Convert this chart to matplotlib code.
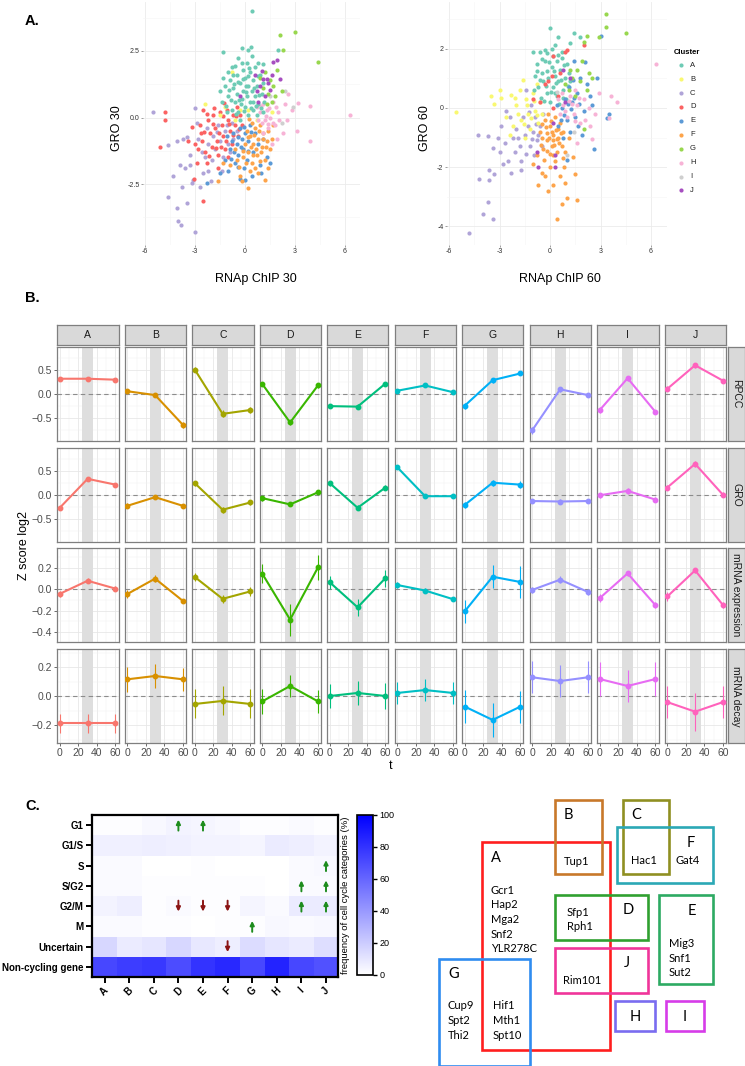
#!/usr/bin/env python3
# -*- coding: utf-8 -*-
"""
plot.py - figura composta: dispersao RNAp x GRO (A), perfis de Z-score por
cluster (B) e heatmap de fases do ciclo celular + diagrama de reguladores (C).
"""
import numpy as np
import matplotlib
matplotlib.use("Agg")
import matplotlib.pyplot as plt
from matplotlib.patches import Rectangle
from matplotlib.colors import LinearSegmentedColormap

plt.rcParams["font.family"] = ["Liberation Sans", "DejaVu Sans"]

W, H = 745, 1066
CLUSTERS = list("ABCDEFGHIJ")

# ---------------- A: pontos (RNAp ChIP, GRO) por cluster ----------------
S30_A = [(-1.3, 2.45), (0.4, 4.0), (-0.2, 2.6), (0.35, 2.65), (0.15, 2.55), (1.95, 2.55),
         (-0.4, 2.25), (0.1, 2.05), (0.8, 2.05), (1.1, 2.0), (-1.5, 1.0), (-1.4, 0.6),
         (-1.2, 1.2), (-1.0, 0.8), (-0.9, 1.4), (-0.8, 0.3), (-0.7, 1.1), (-0.6, 0.6),
         (-0.5, 1.6), (-0.5, 0.9), (-0.4, 0.2), (-0.3, 1.3), (-0.2, 0.7), (-0.1, 1.8),
         (-0.1, 1.0), (0.0, 0.4), (0.0, 1.5), (0.1, 0.8), (0.2, 1.2), (0.2, 0.1),
         (0.3, 1.7), (0.3, 0.6), (0.4, 1.0), (0.5, 1.4), (0.5, 0.3), (0.6, 0.8),
         (0.7, 1.2), (0.8, 0.5), (0.9, 1.6), (1.0, 0.9), (1.1, 0.2), (-0.3, -0.1),
         (-0.8, 1.9), (0.6, 1.9), (-1.1, 0.2), (0.05, 1.2), (-0.25, 0.5), (0.45, 0.6),
         (-0.65, 1.25), (0.15, 1.55), (-1.35, 1.5), (-1.15, 0.45), (-0.95, 1.05), (-0.85, 0.65),
         (-0.75, 1.6), (-0.55, 0.15), (-0.45, 1.35), (-0.35, 0.65), (-0.15, 1.45), (-0.05, 0.25),
         (0.05, 0.95), (0.25, 1.85), (0.35, 0.35), (0.55, 1.1), (0.65, 0.45), (0.75, 1.55),
         (0.85, 0.85), (0.95, 0.35), (1.05, 1.3), (1.15, 0.6), (-0.6, 1.95), (0.4, 2.3),
         (-0.2, 2.05), (0.7, 0.1), (-1.0, 1.7)]
S30_B = [(-0.8, 1.7), (-2.4, 0.5), (-1.5, 0.1), (-0.3, 0.3), (0.2, 0.3), (-0.6, -0.1),
         (0.7, -0.1), (1.6, 0.2), (-1.2, 0.4)]
S30_C = [(-5.5, 0.2), (-4.6, -1.05), (-4.6, -3.0), (-4.1, -3.4), (-4.0, -3.9), (-3.85, -4.05),
         (-3.5, -3.2), (-3.0, -4.3), (-3.1, -2.35), (-3.2, -2.45), (-3.9, -1.8), (-3.6, -1.9),
         (-3.7, -0.8), (-3.5, -0.75), (-3.3, -1.4), (-3.0, 0.35), (-2.8, -0.8), (-2.6, -1.3),
         (-2.5, -2.1), (-2.3, -0.4), (-2.2, -1.0), (-2.0, -1.6), (-1.9, -0.7), (-1.8, -1.2),
         (-1.6, -0.3), (-1.5, -0.9), (-1.3, -1.5), (-1.2, -0.5), (-1.0, -1.0), (-0.8, -0.2),
         (-0.7, -0.8), (-0.5, -0.5), (-2.2, -2.0), (-3.3, -1.8), (-4.1, -0.9), (-2.4, -1.5),
         (-2.7, -2.6), (-1.4, -2.0), (-1.1, -0.3), (-0.9, -1.3), (-2.9, -0.2), (-1.7, -0.55),
         (-2.05, -2.4), (-3.8, -2.6), (-4.35, -2.2)]
S30_D = [(-4.8, 0.2), (-4.8, -0.1), (-5.1, -1.1), (-2.5, -3.15), (-3.05, -2.3), (-3.2, -0.35),
         (-3.4, -0.9), (-2.9, -1.7), (-2.7, -0.3), (-2.6, -0.9), (-2.5, 0.3), (-2.4, -1.3),
         (-2.2, -0.1), (-2.1, -0.6), (-2.0, -1.1), (-1.9, 0.1), (-1.8, -0.4), (-1.7, -0.9),
         (-1.6, -1.4), (-1.5, 0.2), (-1.4, -0.3), (-1.3, -0.7), (-1.2, -1.2), (-1.1, 0.3),
         (-1.0, -0.1), (-0.9, -0.5), (-0.8, -1.0), (-0.7, 0.1), (-0.6, -0.3), (-0.5, 0.4),
         (-0.4, -0.7), (-0.3, 0.1), (-1.6, -1.9), (-2.3, -1.7), (-1.0, -1.5), (-2.8, -1.2),
         (-0.2, -0.3), (-1.25, 0.55), (-2.45, -0.55), (-2.15, -1.45), (-1.95, -0.25), (-1.75, -1.15),
         (-1.55, -0.6), (-1.35, 0.05), (-1.15, -0.9), (-0.95, -0.25), (-0.75, -0.65), (-0.55, 0.05),
         (-1.85, 0.35), (-2.65, -0.6), (-0.35, -0.45), (-1.45, -1.1), (-3.0, -1.0), (-2.3, 0.15)]
S30_E = [(-2.3, -2.45), (-1.0, -2.0), (-0.3, -2.3), (0.4, -2.2), (0.9, -1.8), (1.5, -1.7),
         (1.3, -1.5), (-1.5, -2.1), (-1.2, -1.6), (-0.9, -1.2), (-0.7, -0.6), (-0.5, -1.0),
         (-0.4, -1.4), (-0.3, -0.4), (-0.2, -0.8), (-0.1, -1.2), (0.0, -0.6), (0.1, -1.6),
         (0.2, -0.9), (0.3, -0.3), (0.5, -1.3), (0.6, -0.6), (0.8, -1.0), (-0.8, -0.9),
         (-0.6, -1.7), (0.95, -2.1), (1.1, -0.8), (-0.05, -1.9), (-0.65, -1.3), (-0.45, -0.75),
         (-0.25, -1.1), (-0.05, -0.35), (0.15, -1.25), (0.35, -0.55), (-0.85, -1.55), (-1.1, -0.7),
         (0.0, -2.35), (-0.4, -1.85)]
S30_F = [(0.2, -2.65), (1.2, -2.35), (-1.6, -2.4), (-1.3, -1.7), (-0.3, -2.2), (-0.2, -2.4),
         (-0.5, -1.6), (-0.1, -1.5), (0.0, -1.0), (0.1, -0.5), (0.2, -1.3), (0.3, -0.7),
         (0.4, -1.7), (0.4, -0.2), (0.5, -1.0), (0.6, -0.4), (0.7, -1.4), (0.8, -0.8),
         (0.9, -0.3), (1.0, -1.1), (1.1, -0.6), (1.2, -1.6), (1.3, -0.9), (1.4, -0.5),
         (1.5, -1.2), (0.6, -1.9), (-0.6, -1.2), (-0.9, -1.8), (0.25, -0.05), (1.6, -0.8),
         (0.75, -2.1), (0.15, -0.75), (0.35, -1.1), (0.55, -0.65), (0.65, -1.2), (0.85, -0.5),
         (0.95, -1.3), (1.05, -0.8), (1.25, -1.1), (0.45, -1.4), (0.05, -1.7), (-0.15, -1.25),
         (0.3, -2.0), (1.4, -1.9), (0.9, -1.65), (-0.35, -1.85), (1.7, -0.3)]
S30_G = [(2.1, 3.1), (3.0, 3.2), (4.4, 2.1), (2.3, 2.55), (1.9, 1.8), (1.2, 1.7), (1.5, 1.4),
         (1.7, 1.2), (1.4, 0.9), (1.8, 0.8), (1.1, 1.1), (1.6, 0.6), (2.2, 1.0), (1.3, 0.5),
         (0.9, 1.5)]
S30_H = [(6.3, 0.1), (3.9, 0.45), (3.9, -0.9), (3.1, -0.5), (3.2, 0.55), (2.8, 0.3),
         (2.5, -0.1), (2.4, 0.5), (2.0, 0.2), (1.8, -0.3), (1.7, 0.6), (1.5, 0.0),
         (1.4, -0.4), (1.3, 0.3), (1.2, -0.1), (1.1, 0.5), (1.0, -0.2), (0.9, 0.2),
         (0.8, -0.1), (0.7, 0.4), (1.9, -0.8), (2.3, -0.6), (1.6, -1.0), (1.1, -0.6),
         (1.25, 0.05), (1.45, 0.35), (1.65, -0.2), (1.85, 0.4), (2.05, -0.1), (0.95, 0.45),
         (1.35, -0.25), (2.6, 0.9)]
S30_I = [(2.9, 0.4), (2.4, 1.0), (2.2, -0.2), (1.5, 0.8)]
S30_J = [(1.7, 2.1), (1.9, 2.15), (1.3, 1.45), (0.9, 1.2), (1.5, 1.05), (1.2, 0.8),
         (0.6, 1.6), (1.0, 1.75), (0.8, 0.6), (1.6, 1.6), (2.1, 1.45), (-0.3, 0.8),
         (1.4, 1.3), (1.1, 1.45), (0.7, 1.0)]

S60_A = [(0.0, 2.7), (1.4, 2.55), (1.8, 2.4), (0.3, 2.15), (1.2, 2.2), (-1.0, 1.9),
         (-0.6, 1.9), (-0.3, 1.95), (0.7, 1.9), (0.4, 1.6), (-0.8, 1.5), (-0.5, 1.2),
         (-0.3, 1.6), (-0.1, 1.0), (0.1, 1.4), (0.2, 0.7), (0.3, 1.1), (0.5, 0.9),
         (0.6, 1.3), (0.8, 0.6), (0.9, 1.0), (1.0, 1.5), (-0.2, 0.5), (0.0, 0.2),
         (-0.7, 0.7), (-0.4, 0.9), (0.4, 0.4), (0.7, 1.7), (-0.9, 1.1), (1.2, 0.9),
         (0.15, 1.75), (-0.15, 1.25), (0.55, 0.15), (-0.55, 0.35), (0.95, 0.3),
         (-0.75, 1.25), (-0.45, 1.65), (-0.25, 0.75), (-0.05, 1.55), (0.05, 0.55), (0.25, 1.25),
         (0.35, 0.85), (0.45, 1.8), (0.65, 0.95), (0.75, 0.35), (0.85, 1.45), (1.05, 0.75),
         (1.15, 1.2), (-0.95, 0.6), (-0.35, 0.25), (0.1, 2.0), (0.5, 2.4), (-0.6, 0.95),
         (0.3, 0.5), (-0.15, 1.85)]
S60_B = [(-5.6, -0.15), (-3.0, 0.6), (-3.5, 0.4), (-2.9, 0.35), (-2.3, 0.45), (-3.3, 0.15),
         (-2.6, -0.3), (-2.2, -0.6), (-2.0, 0.1), (-1.8, 0.6), (-1.7, -0.4), (-1.5, -1.0),
         (-1.4, 0.3), (-1.3, -0.2), (-1.2, -0.7), (-1.0, 0.5), (-0.9, -0.1), (-0.8, 0.8),
         (-0.7, -0.5), (-0.6, 0.2), (-2.4, -0.9), (-1.6, 0.95), (-0.5, -0.2), (-1.9, -0.2),
         (-1.1, -0.35), (-1.35, 0.1), (-0.95, 0.25), (-0.75, -0.25), (-1.55, -0.55), (-2.1, 0.35)]
S60_C = [(-4.8, -4.25), (-4.0, -3.6), (-3.7, -3.2), (-3.4, -3.75), (-4.2, -2.4), (-3.65, -2.45),
         (-3.6, -2.1), (-3.3, -2.25), (-4.3, -0.9), (-3.7, -0.95), (-3.4, -1.35), (-3.1, -1.0),
         (-3.0, -1.5), (-2.9, -0.6), (-2.7, -1.2), (-2.5, -1.8), (-2.4, -0.3), (-2.2, -1.0),
         (-1.7, -1.8), (-1.7, -2.1), (-2.0, -0.7), (-1.8, -1.3), (-1.6, -0.3), (-1.5, -0.9),
         (-1.3, -0.6), (-1.2, -1.3), (-1.1, 0.1), (-1.0, -0.8), (-0.9, -0.3), (-0.8, -1.1),
         (-0.6, -0.6), (-0.5, -1.3), (-0.4, -0.2), (-1.4, 0.6), (-2.6, -0.1), (-1.25, -0.15),
         (-1.05, -1.05), (-0.85, -0.55), (-0.7, -0.9), (-1.9, -1.0), (-2.1, -1.5), (-2.8, -1.9),
         (-1.45, -1.55), (-0.95, -1.6), (-2.3, -2.2)]
S60_D = [(0.2, 1.75), (1.0, 1.95), (2.0, 2.15), (0.9, 1.9), (0.6, 1.2), (-0.3, 0.8),
         (0.5, 0.4), (-1.0, 0.3), (-0.1, 0.9), (0.2, 0.0), (-0.6, 0.2), (0.1, 1.1)]
S60_E = [(3.0, 2.45), (2.8, 1.0), (3.5, -0.2), (3.4, -0.35), (2.6, -1.4), (2.1, 1.55),
         (1.4, 1.6), (1.8, 1.0), (2.4, 0.4), (2.0, -0.1), (1.6, 0.5), (1.5, -0.3),
         (1.3, 0.2), (1.2, -0.8), (1.1, 0.7), (1.0, -0.4), (0.9, 0.3), (0.8, -1.0),
         (0.7, 0.0), (0.5, -0.6), (1.9, -0.9), (2.2, 0.8), (1.0, -1.75), (0.4, 0.1),
         (2.5, 0.1), (1.25, -0.05), (1.45, 0.35), (1.05, 0.15), (0.85, -0.25), (1.65, -0.6),
         (1.35, 0.95), (0.65, -0.4), (1.75, 0.15)]
S60_F = [(0.4, -3.75), (0.7, -3.25), (1.6, -3.1), (1.0, -3.05), (-0.1, -2.8), (0.9, -2.55),
         (1.5, -2.25), (0.6, -2.3), (-0.3, -2.3), (-0.5, -2.2), (1.35, -1.65), (-1.0, -1.9),
         (-0.8, -1.6), (0.0, -2.0), (0.3, -1.8), (-0.4, -1.4), (-0.2, -1.1), (0.0, -0.6),
         (0.1, -1.3), (0.2, -0.9), (0.3, -0.3), (0.4, -1.5), (0.5, -1.0), (0.6, -0.5),
         (0.7, -1.3), (0.8, -0.8), (-0.6, -0.8), (-0.3, -0.4), (-0.1, -0.2), (0.2, -1.6),
         (-0.5, -1.0), (0.9, -1.5), (-0.15, -0.85), (0.45, -0.7), (0.15, -1.1), (-0.35, -1.75),
         (-0.25, -0.65), (-0.05, -1.0), (0.05, -0.45), (0.25, -1.25), (0.35, -0.75), (0.55, -1.2),
         (0.65, -0.85), (-0.45, -0.55), (-0.15, -1.45), (0.75, -1.7), (0.1, -0.8), (-0.55, -1.25),
         (0.4, -1.05), (0.0, -1.55), (1.1, -1.0), (0.85, -2.0), (-0.7, -2.6), (0.2, -2.6)]
S60_G = [(3.3, 3.2), (3.3, 2.75), (4.5, 2.55), (2.9, 2.4), (2.2, 2.45), (2.0, 2.25),
         (1.9, 1.6), (1.6, 1.3), (2.3, 1.2), (1.3, 1.0), (1.8, 0.9), (1.1, 0.6),
         (1.5, 0.4), (0.9, 0.8), (2.5, 1.0), (2.0, -0.7), (2.2, 0.6), (1.2, 1.3)]
S60_H = [(6.3, 1.5), (4.0, 0.2), (3.6, 0.4), (3.5, -0.35), (2.5, -1.05), (1.6, -1.2),
         (2.9, 0.5), (2.3, 0.0), (2.0, 0.3), (1.8, -0.5), (1.6, 0.1), (1.4, -0.2),
         (1.2, 0.4), (1.0, -0.3), (0.8, 0.1), (0.6, -0.2), (2.1, -0.4), (2.7, -0.2),
         (1.5, 0.6), (0.5, 0.3), (1.3, 0.15), (1.5, -0.45), (1.7, 0.35), (0.9, -0.1),
         (1.1, 0.25), (2.4, -0.6), (0.7, 0.5)]
S60_I = [(1.0, -1.6), (1.4, -0.8), (0.4, 0.55)]
S60_J = [(-0.8, -1.5), (0.3, -2.0), (-0.7, -2.0), (0.3, -1.6), (0.9, 0.2), (0.2, -0.5),
         (1.2, 1.0), (0.8, 1.3)]

S30 = dict(A=S30_A, B=S30_B, C=S30_C, D=S30_D, E=S30_E, F=S30_F, G=S30_G, H=S30_H, I=S30_I, J=S30_J)
S60 = dict(A=S60_A, B=S60_B, C=S60_C, D=S60_D, E=S60_E, F=S60_F, G=S60_G, H=S60_H, I=S60_I, J=S60_J)

COR_SCAT = {"A": "#6ECBB5", "B": "#F9F871", "C": "#B0A4D8", "D": "#FB6262", "E": "#5C9AD6",
            "F": "#FDA44B", "G": "#98D74E", "H": "#F7B3D6", "I": "#CFCFCF", "J": "#A64EC0"}

# ---------------- B: medias e erros por cluster (t = 0, 30, 60) ----------------
T = [0, 30, 60]
RPCC_MED = [[0.31, 0.31, 0.29], [0.05, -0.03, -0.65], [0.50, -0.42, -0.34], [0.20, -0.60, 0.17],
            [-0.26, -0.27, 0.21], [0.06, 0.17, 0.03], [-0.25, 0.28, 0.42], [-0.76, 0.09, -0.03],
            [-0.34, 0.32, -0.38], [0.10, 0.59, 0.27]]
RPCC_ERR = [[0.03, 0.03, 0.03], [0.04, 0.04, 0.07], [0.06, 0.07, 0.06], [0.05, 0.06, 0.05],
            [0.04, 0.05, 0.04], [0.03, 0.03, 0.03], [0.06, 0.05, 0.04], [0.07, 0.05, 0.04],
            [0.06, 0.05, 0.05], [0.05, 0.05, 0.04]]
GRO_MED = [[-0.27, 0.33, 0.21], [-0.23, -0.05, -0.23], [0.24, -0.31, -0.16], [-0.07, -0.20, 0.05],
           [0.24, -0.27, 0.15], [0.57, -0.03, -0.03], [-0.21, 0.25, 0.21], [-0.13, -0.14, -0.13],
           [-0.01, 0.08, -0.10], [0.15, 0.64, 0.0]]
GRO_ERR = [[0.04, 0.04, 0.03], [0.05, 0.04, 0.04], [0.05, 0.06, 0.05], [0.05, 0.04, 0.04],
           [0.05, 0.05, 0.05], [0.04, 0.03, 0.03], [0.06, 0.06, 0.07], [0.05, 0.05, 0.05],
           [0.05, 0.07, 0.05], [0.06, 0.07, 0.05]]
EXPR_MED = [[-0.043, 0.08, 0.006], [-0.045, 0.10, -0.11], [0.115, -0.09, -0.02], [0.146, -0.285, 0.205],
            [0.065, -0.17, 0.105], [0.04, -0.012, -0.093], [-0.207, 0.118, 0.068], [-0.006, 0.09, -0.025],
            [-0.083, 0.149, -0.15], [-0.068, 0.177, -0.148]]
EXPR_ERR = [[0.03, 0.025, 0.025], [0.035, 0.03, 0.02], [0.04, 0.035, 0.04], [0.09, 0.15, 0.12],
            [0.06, 0.08, 0.08], [0.03, 0.025, 0.02], [0.11, 0.11, 0.15], [0.03, 0.03, 0.03],
            [0.04, 0.02, 0.03], [0.045, 0.02, 0.025]]
DEC_MED = [[-0.186, -0.186, -0.186], [0.117, 0.14, 0.117], [-0.053, -0.032, -0.053], [-0.035, 0.071, -0.035],
           [0.002, 0.023, 0.002], [0.023, 0.043, 0.023], [-0.071, -0.163, -0.071], [0.131, 0.105, 0.131],
           [0.119, 0.071, 0.119], [-0.04, -0.106, -0.04]]
DEC_ERR = [[0.065, 0.065, 0.065], [0.085, 0.085, 0.08], [0.10, 0.10, 0.10], [0.085, 0.075, 0.08],
           [0.085, 0.085, 0.09], [0.075, 0.075, 0.075], [0.115, 0.115, 0.11], [0.11, 0.11, 0.11],
           [0.12, 0.11, 0.12], [0.11, 0.13, 0.11]]
COR_LINHA = ["#F8766D", "#D89000", "#A3A500", "#39B600", "#00BF7D",
             "#00BFC4", "#00B0F6", "#9590FF", "#E76BF3", "#FF62BC"]

# ---------------- C: frequencia (%) das categorias por cluster ----------------
FASES = ["G1", "G1/S", "S", "S/G2", "G2/M", "M", "Uncertain", "Non-cycling gene"]
FREQ_G1 = [1, 1, 3, 5, 4, 3, 1, 1, 2, 1]
FREQ_G1S = [6, 6, 7, 6, 5, 5, 4, 8, 7, 5]
FREQ_S = [2, 2, 0, 0, 1, 0, 0, 0, 2, 3]
FREQ_SG2 = [2, 2, 1, 1, 1, 1, 1, 0, 2, 2]
FREQ_G2M = [5, 7, 1, 2, 1, 1, 4, 2, 8, 8]
FREQ_M = [2, 2, 1, 1, 0, 1, 1, 3, 2, 3]
FREQ_UNC = [16, 8, 10, 16, 9, 7, 14, 10, 8, 13]
FREQ_NC = [72, 76, 78, 70, 80, 84, 72, 86, 72, 68]
SETA_SOBE = [("G1", "D"), ("G1", "E"), ("S", "J"), ("S/G2", "I"), ("S/G2", "J"),
             ("G2/M", "I"), ("G2/M", "J"), ("M", "G")]
SETA_DESCE = [("G2/M", "D"), ("G2/M", "E"), ("G2/M", "F"), ("Uncertain", "F")]

# reguladores em cada caixa do diagrama
GENES_A = ["Gcr1", "Hap2", "Mga2", "Snf2", "YLR278C"]
GENES_AG = ["Hif1", "Mth1", "Spt10"]
GENES_G = ["Cup9", "Spt2", "Thi2"]
GENES_E = ["Mig3", "Snf1", "Sut2"]
GENES_AD = ["Sfp1", "Rph1"]
GENES_AB = ["Tup1"]
GENES_AJ = ["Rim101"]
GENES_CF = ["Hac1"]
GENES_F = ["Gat4"]

fig = plt.figure(figsize=(W / 100, H / 100), dpi=100)


def caixa(x0, y0, x1, y1):
    return fig.add_axes([x0 / W, 1 - y1 / H, (x1 - x0) / W, (y1 - y0) / H])


# ---------------- painel A ----------------
def dispersao(ax, pontos, ordem, xlim, ylim, yt, yt_lab, ymin):
    for c in ordem:
        p = np.array(pontos[c])
        ax.scatter(p[:, 0], p[:, 1], s=9, color=COR_SCAT[c], lw=0, zorder=3)
    ax.set_xlim(*xlim); ax.set_ylim(*ylim)
    ax.set_xticks([-6, -3, 0, 3, 6]); ax.set_xticklabels(["-6", "-3", "0", "3", "6"])
    ax.set_xticks([-4.5, -1.5, 1.5, 4.5], minor=True)
    ax.set_yticks(yt); ax.set_yticklabels(yt_lab)
    ax.set_yticks(ymin, minor=True)
    ax.grid(True, which="major", color="#EBEBEB", lw=0.6)
    ax.grid(True, which="minor", color="#F5F5F5", lw=0.4)
    ax.set_axisbelow(True)
    for s in ax.spines.values():
        s.set_visible(False)
    ax.tick_params(which="major", labelsize=5, labelcolor="#333333", color="#555555",
                   length=1.5, width=0.4, pad=1)
    ax.tick_params(which="minor", length=0)


ax30 = caixa(143, 2, 360, 245)
dispersao(ax30, S30, ["C", "D", "E", "F", "B", "H", "I", "A", "G", "J"],
          (-6.12, 6.9), (-4.79, 4.34), [-2.5, 0, 2.5], ["-2.5", "0.0", "2.5"],
          [-3.75, -1.25, 1.25, 3.75])
ax60 = caixa(447, 2, 667, 245)
dispersao(ax60, S60, ["C", "B", "F", "A", "D", "E", "H", "G", "I", "J"],
          (-6.12, 6.95), (-4.64, 3.59), [-4, -2, 0, 2], ["-4", "-2", "0", "2"],
          [-3, -1, 1, 3])

ov = fig.add_axes([0, 0, 1, 1], zorder=10)
ov.set_xlim(0, W); ov.set_ylim(H, 0); ov.axis("off"); ov.patch.set_alpha(0)

ov.text(25, 21, "A.", fontsize=10.5, fontweight="bold", va="center")
ov.text(25, 298, "B.", fontsize=10.5, fontweight="bold", va="center")
ov.text(25, 806, "C.", fontsize=10.5, fontweight="bold", va="center")
ov.text(117, 128, "GRO 30", fontsize=9, rotation=90, ha="center", va="center")
ov.text(256, 279, "RNAp ChIP 30", fontsize=9, ha="center", va="center")
ov.text(425, 128, "GRO 60", fontsize=9, rotation=90, ha="center", va="center")
ov.text(560, 279, "RNAp ChIP 60", fontsize=9, ha="center", va="center")

# legenda manual dos clusters
ov.text(674, 53, "Cluster", fontsize=5.5, fontweight="bold", va="center")
for i, c in enumerate(CLUSTERS):
    yy = 65.3 + 13.9 * i
    ov.scatter([681], [yy], s=9, color=COR_SCAT[c], lw=0)
    ov.text(690, yy, c, fontsize=5.5, va="center", color="#222222")

# ---------------- painel B ----------------
LINHAS = [("RPCC", RPCC_MED, RPCC_ERR, (-0.985, 0.97), [-0.5, 0.0, 0.5], [-0.75, -0.25, 0.25, 0.75]),
          ("GRO", GRO_MED, GRO_ERR, (-0.98, 0.97), [-0.5, 0.0, 0.5], [-0.75, -0.25, 0.25, 0.75]),
          ("mRNA expression", EXPR_MED, EXPR_ERR, (-0.496, 0.388), [-0.4, -0.2, 0.0, 0.2],
           [-0.3, -0.1, 0.1, 0.3]),
          ("mRNA decay", DEC_MED, DEC_ERR, (-0.322, 0.326), [-0.2, 0.0, 0.2], [-0.3, -0.1, 0.1, 0.3])]
row_y0 = [347, 448, 548, 649]
ph = 94
for r, (nome, med, err, ylim, yt, ymin) in enumerate(LINHAS):
    y0 = row_y0[r]
    for k, c in enumerate(CLUSTERS):
        x0 = 57 + 67.5 * k
        ax = caixa(x0, y0, x0 + 61.5, y0 + ph)
        ax.axvspan(24, 36, color="#DEDEDE", lw=0, zorder=1)
        ax.axhline(0, color="#8C8C8C", lw=0.8, ls=(0, (4, 3)), zorder=2)
        ax.errorbar(T, med[k], yerr=err[k], color=COR_LINHA[k], lw=1.5, marker="o", ms=3.2,
                    elinewidth=0.8, capsize=0, zorder=3)
        ax.set_xlim(-3, 63.3); ax.set_ylim(*ylim)
        ax.set_xticks([0, 20, 40, 60]); ax.set_xticks([10, 30, 50], minor=True)
        ax.set_yticks(yt); ax.set_yticks(ymin, minor=True)
        ax.grid(True, which="major", color="#E6E6E6", lw=0.55)
        ax.grid(True, which="minor", color="#F2F2F2", lw=0.35)
        ax.set_axisbelow(True)
        for s in ax.spines.values():
            s.set_color("#7F7F7F"); s.set_linewidth(0.9)
        ax.tick_params(which="major", length=2, width=0.5, color="#333333",
                       labelsize=7.5, labelcolor="#4D4D4D", pad=1.5)
        ax.tick_params(which="minor", length=0)
        if k == 0:
            ax.set_yticklabels([f"{v:.1f}".replace("-", "\u2212") for v in yt])
        else:
            ax.tick_params(axis="y", which="major", length=0, labelleft=False)
        if r < 3:
            ax.tick_params(axis="x", which="major", length=0, labelbottom=False)
        if r == 0:
            st = caixa(x0, 325, x0 + 61.5, 345)
            st.set_facecolor("#D9D9D9"); st.set_xticks([]); st.set_yticks([])
            for s in st.spines.values():
                s.set_color("#7F7F7F"); s.set_linewidth(0.9)
            st.text(0.5, 0.5, c, transform=st.transAxes, ha="center", va="center",
                    fontsize=7.5, color="#1A1A1A")
    st = caixa(727.5, y0, 744.5, y0 + ph)
    st.set_facecolor("#D9D9D9"); st.set_xticks([]); st.set_yticks([])
    for s in st.spines.values():
        s.set_color("#7F7F7F"); s.set_linewidth(0.9)
    st.text(0.5, 0.5, nome, transform=st.transAxes, ha="center", va="center",
            fontsize=7.5, rotation=-90, color="#1A1A1A")

ov.text(24, 545, "Z score log2", fontsize=9, rotation=90, ha="center", va="center")
ov.text(391, 766, "t", fontsize=9, ha="center", va="center")

# ---------------- painel C: heatmap ----------------
mat = np.array([FREQ_G1, FREQ_G1S, FREQ_S, FREQ_SG2, FREQ_G2M, FREQ_M, FREQ_UNC, FREQ_NC])
cmap = LinearSegmentedColormap.from_list("azul", ["#FFFFFF", "#0000FF"])
axh = caixa(92.3, 815, 338.3, 977)
mesh = axh.pcolormesh(np.arange(11), np.arange(9), mat, cmap=cmap, vmin=0, vmax=100)
axh.set_xlim(0, 10); axh.set_ylim(8, 0)
axh.set_yticks(np.arange(8) + 0.5)
axh.set_yticklabels(FASES, fontsize=7, fontweight="bold")
axh.set_xticks(np.arange(10) + 0.5)
axh.set_xticklabels(CLUSTERS, fontsize=7, fontweight="bold", rotation=45)
axh.tick_params(length=4, width=1.4, color="black", pad=2)
for s in axh.spines.values():
    s.set_linewidth(1.6)
for fase, cl in SETA_SOBE + SETA_DESCE:
    i = CLUSTERS.index(cl) + 0.5
    j = FASES.index(fase) + 0.5
    if (fase, cl) in SETA_SOBE:
        ini, fim, cor = j + 0.27, j - 0.27, "#1E8C1E"
    else:
        ini, fim, cor = j - 0.27, j + 0.27, "#8B1414"
    axh.annotate("", xy=(i, fim), xytext=(i, ini),
                 arrowprops=dict(arrowstyle="-|>", color=cor, lw=1.4, mutation_scale=6,
                                 shrinkA=0, shrinkB=0))

cax = caixa(357, 815, 372.5, 975)
cb = fig.colorbar(mesh, cax=cax, ticks=[0, 20, 40, 60, 80, 100])
cb.outline.set_linewidth(1.2)
cax.tick_params(labelsize=6.5, length=3, width=1, pad=2)
ov.text(345, 895, "frequency of cell cycle categories (%)", fontsize=6.8, rotation=90,
        ha="center", va="center")

# ---------------- painel C: diagrama de reguladores ----------------
VF = ["Lato", "DejaVu Sans"]


def retangulo(x0, y0, x1, y1, cor):
    ov.add_patch(Rectangle((x0, y0), x1 - x0, y1 - y0, fill=False, ec=cor, lw=1.9))


def lista(x, y, genes, ha="left"):
    for i, g in enumerate(genes):
        ov.text(x, y + 14.7 * i, g, fontsize=8, family=VF, ha=ha, va="center")


retangulo(481.7, 842.3, 610, 1050, "#FF1E1E")
retangulo(555, 800, 601.7, 874, "#C8782A")
retangulo(623.3, 800, 669.3, 874, "#8F8F22")
retangulo(616.7, 827.3, 713.3, 883.3, "#2BA8B5")
retangulo(555, 895, 648.3, 940, "#30A030")
retangulo(659.3, 895, 713.3, 984.3, "#2DAA63")
retangulo(555, 948.3, 648.3, 993.3, "#F0359A")
retangulo(615, 1001, 655, 1031, "#7A6CF0")
retangulo(665.7, 1001, 704.3, 1031, "#D63CE8")
retangulo(439.3, 959, 530, 1066, "#2F8CF0")

for letra, x, y in [("A", 496, 858), ("B", 568, 815), ("C", 636, 815), ("F", 690.7, 842.7),
                    ("D", 628.3, 910), ("E", 691.7, 911), ("J", 626.7, 963),
                    ("H", 635.7, 1016.7), ("I", 685, 1016.7), ("G", 453.3, 974.3)]:
    ov.text(x, y, letra, fontsize=10.5, family=VF, ha="center", va="center")

lista(490.7, 890, GENES_A)
lista(492.5, 1005.7, GENES_AG)
lista(447.7, 1005.7, GENES_G)
lista(668.5, 943.3, GENES_E)
lista(567, 912, GENES_AD)
lista(563.5, 861.7, GENES_AB)
lista(563, 981, GENES_AJ)
lista(631.5, 860, GENES_CF)
lista(675.5, 860, GENES_F)

fig.savefig("out.png", dpi=100)
